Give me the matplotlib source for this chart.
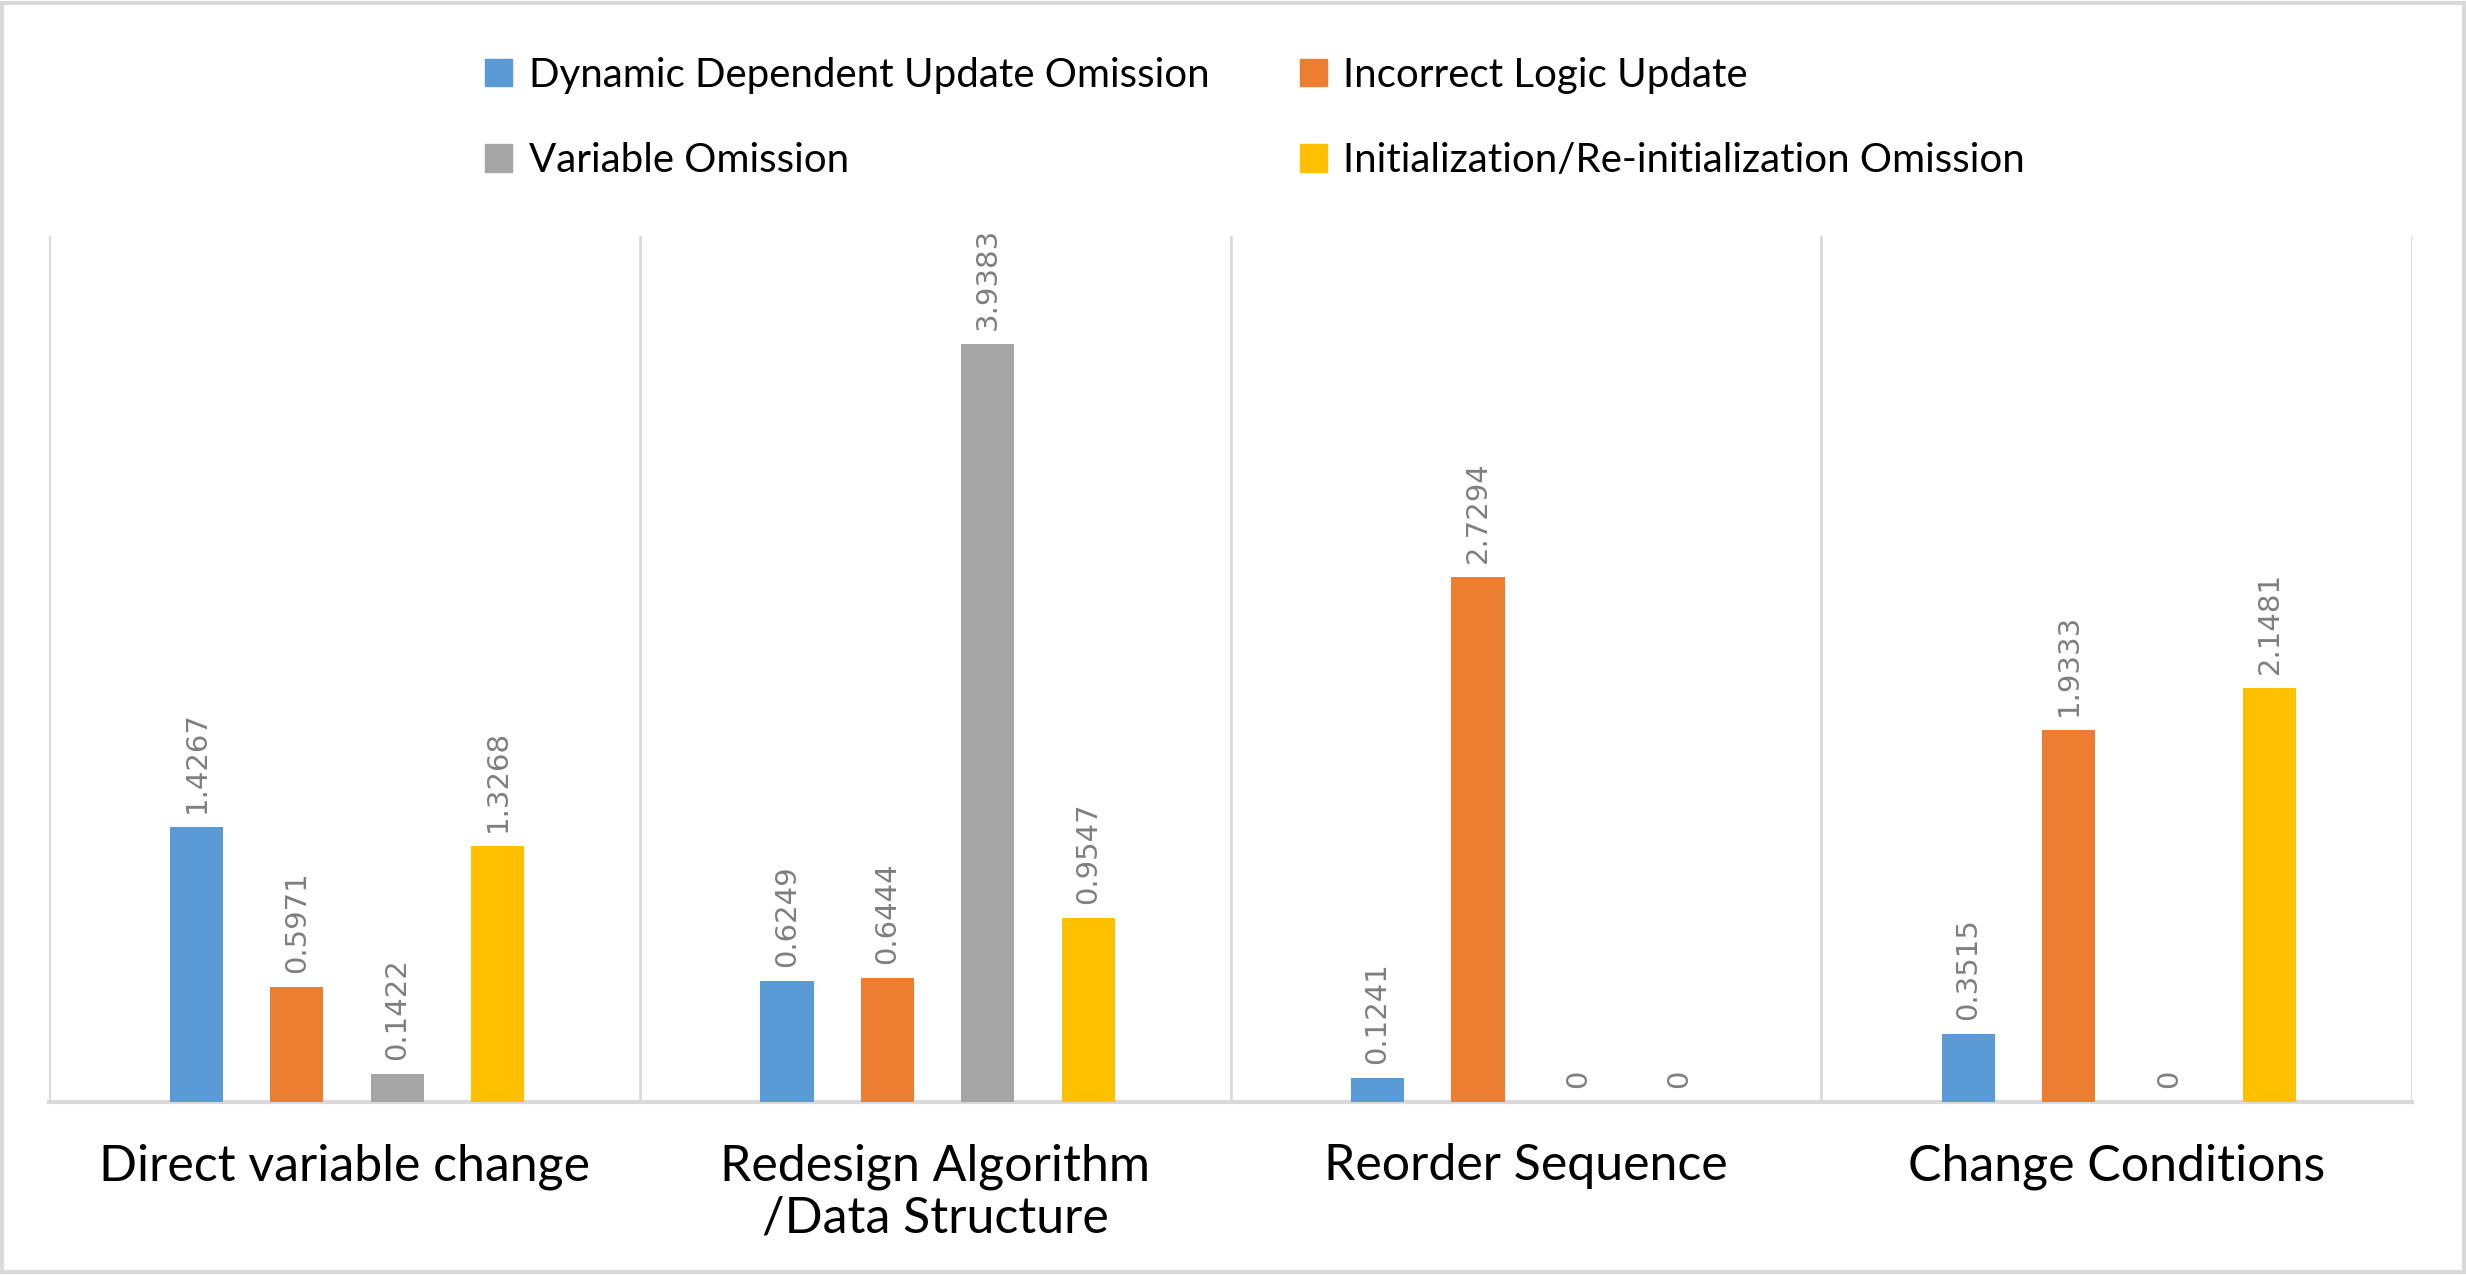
import numpy as np
import matplotlib.pyplot as plt
from matplotlib.patches import Patch

categories = ['Direct variable change', 'Redesign Algorithm\n/Data Structure',
              'Reorder Sequence', 'Change Conditions']
series = ['Dynamic Dependent Update Omission', 'Incorrect Logic Update',
          'Variable Omission', 'Initialization/Re-initialization Omission']
dynamic_dep = [1.4267, 0.6249, 0.1241, 0.3515]
incorrect_logic = [0.5971, 0.6444, 2.7294, 1.9333]
variable_om = [0.1422, 3.9383, 0, 0]
init_om = [1.3268, 0.9547, 0, 2.1481]
labels = [['1.4267', '0.6249', '0.1241', '0.3515'],
          ['0.5971', '0.6444', '2.7294', '1.9333'],
          ['0.1422', '3.9383', '0', '0'],
          ['1.3268', '0.9547', '0', '2.1481']]

colors = ['#5B9BD5', '#ED7D31', '#A5A5A5', '#FFC000']
values = [dynamic_dep, incorrect_logic, variable_om, init_om]

fig = plt.figure(figsize=(24.66, 12.75), dpi=100)
ax = fig.add_axes([0.020, 0.136, 0.958, 0.679])

x = np.arange(len(categories))
width = 0.09
step = 0.17
for i, (vals, col) in enumerate(zip(values, colors)):
    pos = x + (i - 1.5) * step + 0.004
    ax.bar(pos, vals, width=width, color=col, zorder=3)
    for p, v, t in zip(pos, vals, labels[i]):
        ax.annotate(t, (p, v), xytext=(0, 10), textcoords='offset points',
                    rotation=90, ha='center', va='bottom',
                    fontsize=21, color='#7F7F7F', family='DejaVu Sans')

ax.set_xlim(-0.5, 3.5)
ax.set_ylim(0, 4.5)
for b in np.arange(-0.5, 4.0, 1.0):
    ax.axvline(b, color='#D9D9D9', lw=2, zorder=1)
for s in ['top', 'left', 'right']:
    ax.spines[s].set_visible(False)
ax.spines['bottom'].set_color('#D9D9D9')
ax.spines['bottom'].set_linewidth(3)
ax.set_yticks([])
ax.set_xticks(x)
ax.set_xticklabels(categories, fontsize=36, family='Lato', va='top',
                   linespacing=1.15)
ax.tick_params(axis='x', length=0, pad=30)

handles = [Patch(color=colors[k]) for k in [0, 2, 1, 3]]
names = [series[k] for k in [0, 2, 1, 3]]
fig.legend(handles, names, ncol=2, loc='upper left',
           bbox_to_anchor=(0.182, 0.984), frameon=False,
           prop={'family': 'Lato', 'size': 29},
           handlelength=0.68, handleheight=0.68, handletextpad=0.4,
           columnspacing=2.25, labelspacing=1.2)

fig.patches.append(plt.Rectangle((0.001, 0.002), 0.998, 0.996, transform=fig.transFigure,
                                 fill=False, edgecolor='#D9D9D9', lw=3))

fig.savefig('out.png', dpi=100)
